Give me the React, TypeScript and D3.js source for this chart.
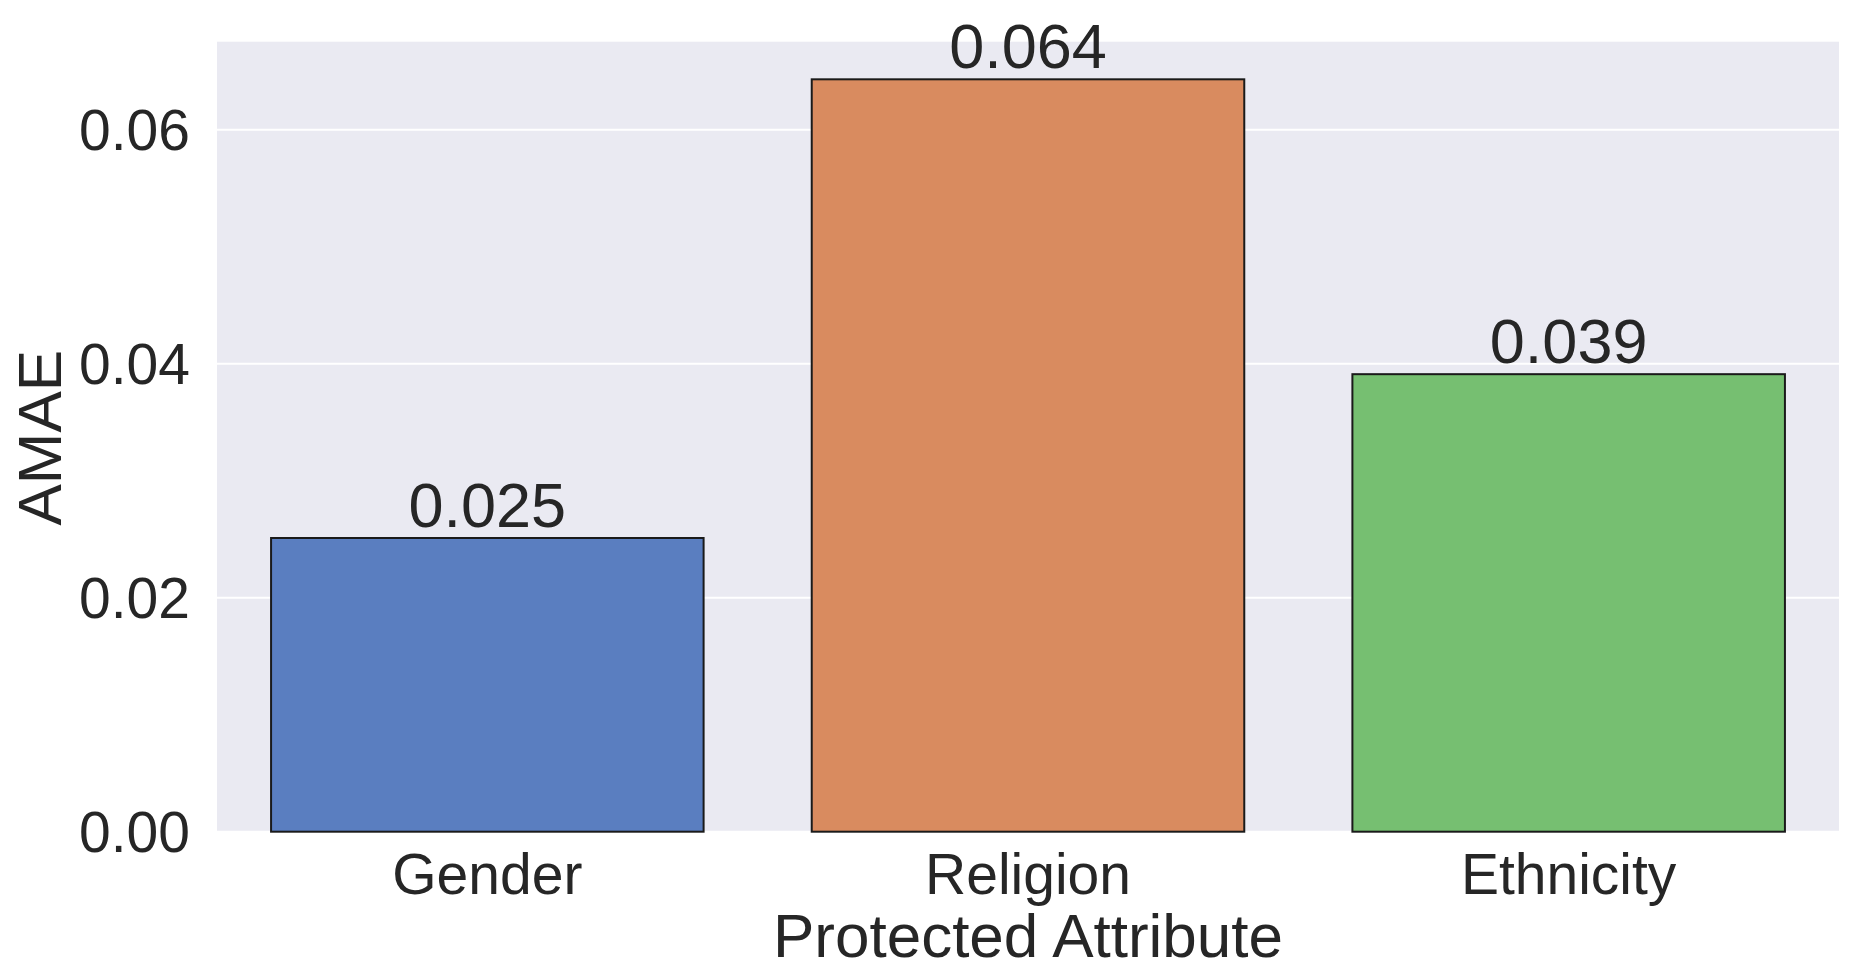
import React from "react";
import * as d3 from "d3";

const categories = ["Gender", "Religion", "Ethnicity"];
const values = [0.0251, 0.0643, 0.0391];
const valueLabels = ["0.025", "0.064", "0.039"];
const yTicks = [0, 0.02, 0.04, 0.06];
const barColors = ["#5a7ec0", "#d98b5f", "#76bf71"];

const W = 1851;
const H = 964;
const M = { left: 217, right: 1839, top: 41.7, bottom: 831.7 };
const FONT = "'Liberation Sans', Arial, Helvetica, sans-serif";
const TXT = "#262626";

export default function App() {
  const x = d3
    .scaleBand<string>()
    .domain(categories)
    .range([M.left, M.right])
    .paddingInner(0.2)
    .paddingOuter(0.1);
  const yMax = d3.max(values)! * 1.05;
  const y = d3.scaleLinear().domain([0, yMax]).range([M.bottom, M.top]);

  return (
    <div style={{ position: "fixed", left: 0, top: 0, width: W, height: H, background: "#fff" }}>
      <svg width={W} height={H} style={{ display: "block" }}>
        <rect x={M.left} y={M.top} width={M.right - M.left} height={M.bottom - M.top} fill="#eaeaf2" />
        {yTicks.map((t) => (
          <g key={t}>
            <line x1={M.left} x2={M.right} y1={y(t)} y2={y(t)} stroke="#fff" strokeWidth={2} />
            <text
              x={190}
              y={y(t)}
              dy="0.36em"
              textAnchor="end"
              fontFamily={FONT}
              fontSize={57}
              fill={TXT}
            >
              {t.toFixed(2)}
            </text>
          </g>
        ))}
        {categories.map((c, i) => (
          <g key={c}>
            <rect
              x={x(c)!}
              y={y(values[i])}
              width={x.bandwidth()}
              height={y(0) - y(values[i])}
              fill={barColors[i]}
              stroke="#1a1a1a"
              strokeWidth={2}
            />
            <text
              x={x(c)! + x.bandwidth() / 2}
              y={y(values[i]) - 11}
              textAnchor="middle"
              fontFamily={FONT}
              fontSize={63}
              fill={TXT}
            >
              {valueLabels[i]}
            </text>
            <text
              x={x(c)! + x.bandwidth() / 2}
              y={894}
              textAnchor="middle"
              fontFamily={FONT}
              fontSize={57}
              fill={TXT}
            >
              {c}
            </text>
          </g>
        ))}
        <text
          x={(M.left + M.right) / 2}
          y={957}
          textAnchor="middle"
          fontFamily={FONT}
          fontSize={62}
          fill={TXT}
        >
          Protected Attribute
        </text>
        <text
          transform={`translate(61, ${(M.top + M.bottom) / 2 + 1}) rotate(-90)`}
          textAnchor="middle"
          fontFamily={FONT}
          fontSize={62}
          fill={TXT}
        >
          AMAE
        </text>
      </svg>
    </div>
  );
}
